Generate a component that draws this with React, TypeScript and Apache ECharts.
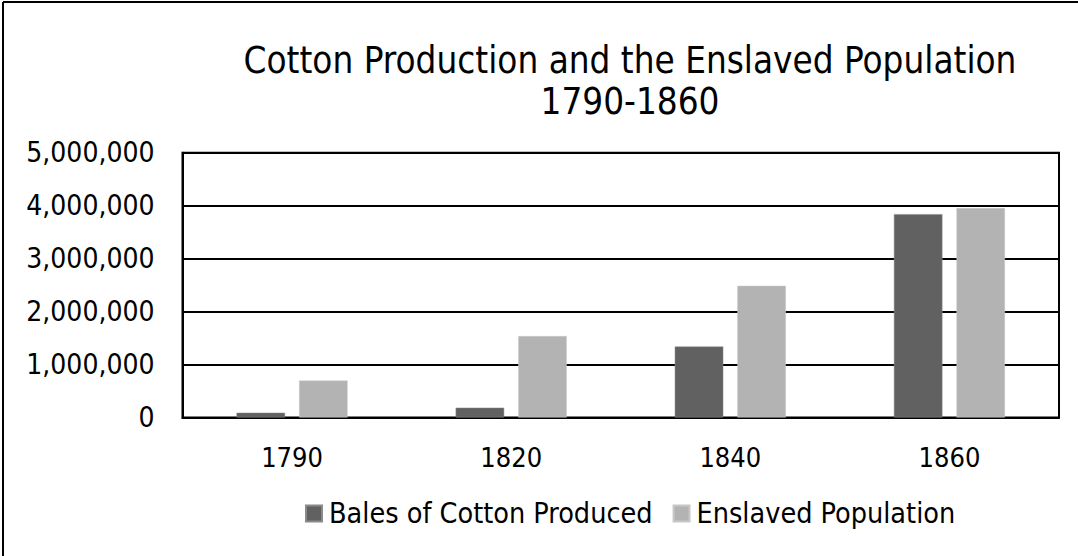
import React, { useEffect, useRef } from "react";
import * as echarts from "echarts";

const categories = ["1790", "1820", "1840", "1860"];
const balesOfCotton = [90000, 185000, 1340000, 3840000];
const enslavedPopulation = [697000, 1538000, 2487000, 3954000];
const seriesNames = ["Bales of Cotton Produced", "Enslaved Population"];
const titleLines = ["Cotton Production and the Enslaved Population", "1790-1860"];

const FONT = "'DejaVu Sans Condensed', 'DejaVu Sans', sans-serif";

export default function App() {
  const ref = useRef<HTMLDivElement>(null);
  useEffect(() => {
    if (!ref.current) return;
    const chart = echarts.init(ref.current, undefined, { renderer: "svg" });
    chart.setOption({
      animation: false,
      backgroundColor: "#ffffff",
      textStyle: { fontFamily: FONT, color: "#000" },
      graphic: [
        { type: "line", shape: { x1: 3, y1: 2, x2: 1078, y2: 2 }, style: { stroke: "#000", lineWidth: 2 } },
        { type: "line", shape: { x1: 3, y1: 2, x2: 3, y2: 556 }, style: { stroke: "#000", lineWidth: 2 } },
        {
          type: "text",
          x: 630,
          y: 60,
          style: { text: titleLines[0], font: `36.5px ${FONT}`, fill: "#000", textAlign: "center", textVerticalAlign: "middle" },
        },
        {
          type: "text",
          x: 630,
          y: 101,
          style: { text: titleLines[1], font: `36.5px ${FONT}`, fill: "#000", textAlign: "center", textVerticalAlign: "middle" },
        },
      ],
      legend: {
        data: seriesNames,
        left: 305,
        top: 499,
        padding: 0,
        itemWidth: 16,
        itemHeight: 16,
        itemGap: 20,
        icon: "rect",
        textStyle: { fontFamily: FONT, fontSize: 28.5, color: "#000", padding: [0, 0, 0, 2] },
      },
      grid: {
        left: 182.5,
        right: 19,
        top: 152.7,
        bottom: 138.5,
        show: true,
        borderColor: "#000",
        borderWidth: 2,
        backgroundColor: "transparent",
      },
      xAxis: {
        type: "category",
        data: categories,
        axisLine: { show: true, lineStyle: { color: "#000", width: 2 } },
        axisTick: { show: false },
        axisLabel: { fontFamily: FONT, fontSize: 27, color: "#000", margin: 26 },
      },
      yAxis: {
        type: "value",
        min: 0,
        max: 5000000,
        interval: 1000000,
        axisLine: { show: true, lineStyle: { color: "#000", width: 2 } },
        axisTick: { show: false },
        splitLine: { show: true, lineStyle: { color: "#000", width: 2 } },
        axisLabel: {
          fontFamily: FONT,
          fontSize: 28,
          color: "#000",
          margin: 28,
          formatter: (v: number) => v.toLocaleString("en-US"),
        },
      },
      series: [
        {
          name: seriesNames[0],
          type: "bar",
          data: balesOfCotton,
          barWidth: 48.5,
          barGap: "29%",
          itemStyle: { color: "#616161", borderColor: "#8a8a8a", borderWidth: 0.5 },
        },
        {
          name: seriesNames[1],
          type: "bar",
          data: enslavedPopulation,
          barWidth: 48.5,
          itemStyle: { color: "#b3b3b3", borderColor: "#c8c8c8", borderWidth: 0.5 },
        },
      ],
    });
    return () => chart.dispose();
  }, []);
  return <div ref={ref} style={{ width: 1078, height: 556, position: "absolute", left: 0, top: 0 }} />;
}
